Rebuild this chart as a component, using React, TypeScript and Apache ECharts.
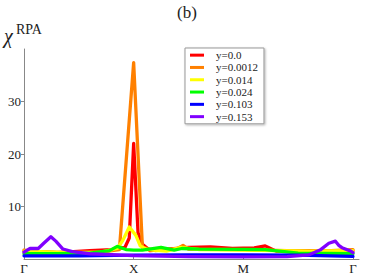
import React, { useEffect, useRef } from "react";
import * as echarts from "echarts";

const seriesNames = ["y=0.0", "y=0.0012", "y=0.014", "y=0.024", "y=0.103", "y=0.153"];
const seriesColors = ["#ff0000", "#ff8000", "#ffff00", "#00ff00", "#0000ff", "#8000ff"];

const xTickPositions = [0, 1, 2, 3];
const xTickLabels = ["Γ", "X", "M", "Γ"];
const yTickValues = [10, 20, 30];

const redData: [number, number][] = [
  [0, 1.5], [0.3, 1.2], [0.6, 1.6], [0.8, 1.8], [0.92, 2.2], [0.96, 4.0], [1.0, 22.0],
  [1.04, 5.0], [1.08, 2.8], [1.15, 1.6], [1.5, 2.2], [1.7, 2.3], [1.9, 2.0], [2.1, 2.1],
  [2.2, 2.5], [2.3, 1.5], [2.6, 1.6], [2.85, 1.4], [3.0, 1.6],
];
const orangeData: [number, number][] = [
  [0, 1.7], [0.1, 1.4], [0.4, 1.2], [0.7, 1.3], [0.87, 1.8], [1.0, 37.4], [1.08, 2.2],
  [1.2, 1.6], [1.4, 2.0], [1.45, 2.6], [1.5, 1.9], [2.0, 1.8], [2.4, 1.6], [2.7, 1.5], [3.0, 1.8],
];
const yellowData: [number, number][] = [
  [0, 1.5], [0.4, 1.2], [0.7, 1.3], [0.85, 2.0], [0.9, 3.5], [0.96, 6.1], [1.02, 4.5],
  [1.06, 2.5], [1.12, 1.8], [1.3, 1.5], [1.43, 2.2], [1.6, 1.8], [2.0, 1.7], [2.3, 1.6],
  [2.6, 1.5], [3.0, 1.6],
];
const greenData: [number, number][] = [
  [0, 1.0], [0.3, 1.0], [0.6, 1.1], [0.78, 1.6], [0.85, 2.4], [0.93, 1.8], [1.0, 1.7],
  [1.08, 1.7], [1.25, 2.2], [1.37, 1.7], [1.44, 2.0], [1.6, 1.9], [2.0, 1.85], [2.2, 1.8],
  [2.5, 1.1], [3.0, 1.0],
];
const blueData: [number, number][] = [
  [0, 0.6], [0.5, 0.6], [1.0, 0.75], [1.5, 0.8], [2.0, 0.8], [2.5, 0.75], [2.8, 0.6], [3.0, 0.5],
];
const purpleData: [number, number][] = [
  [0, 1.3], [0.055, 2.0], [0.13, 2.0], [0.18, 3.0], [0.245, 4.25], [0.29, 3.4], [0.355, 1.9],
  [0.44, 1.4], [0.6, 1.0], [1.0, 0.65], [1.5, 0.45], [2.0, 0.4], [2.4, 0.45], [2.6, 0.8],
  [2.7, 1.7], [2.78, 3.0], [2.84, 3.4], [2.87, 2.6], [2.9, 2.15], [2.98, 1.5], [3.0, 1.2],
];

const allData = [redData, orangeData, yellowData, greenData, blueData, purpleData];

const SERIF = "'Liberation Serif', 'DejaVu Serif', 'Times New Roman', serif";

export default function App() {
  const ref = useRef<HTMLDivElement>(null);
  useEffect(() => {
    if (!ref.current) return;
    const chart = echarts.init(ref.current, undefined, { renderer: "svg" });
    chart.setOption({
      animation: false,
      backgroundColor: "#ffffff",
      title: {
        text: "(b)",
        left: "center",
        top: 4,
        padding: 0,
        textStyle: { fontFamily: SERIF, fontSize: 17, fontWeight: "normal", color: "#222" },
      },
      graphic: [
        {
          type: "text",
          left: 4,
          top: 26,
          style: { text: "χ", font: `italic 20px ${SERIF}`, fill: "#222" },
        },
        {
          type: "text",
          left: 16,
          top: 22,
          style: { text: "RPA", font: `14px ${SERIF}`, fill: "#222" },
        },
      ],
      legend: {
        orient: "vertical",
        left: 185,
        top: 48,
        padding: [1, 6, 1, 5],
        itemGap: 0,
        itemWidth: 14,
        itemHeight: 3,
        icon: "rect",
        borderColor: "#999",
        borderWidth: 1,
        backgroundColor: "#fff",
        shadowColor: "rgba(0,0,0,0.3)",
        shadowBlur: 2,
        shadowOffsetX: 1,
        shadowOffsetY: 1,
        textStyle: {
          fontFamily: SERIF,
          fontSize: 11,
          lineHeight: 12.3,
          color: "#222",
          padding: [0, 0, 0, 7],
        },
        data: seriesNames,
      },
      grid: { left: 24, right: 15, top: 49, bottom: 20, containLabel: false },
      xAxis: {
        type: "value",
        min: 0,
        max: 3.055,
        axisLine: { show: true, lineStyle: { color: "#888", width: 1 } },
        axisTick: { show: true, inside: true, length: 3, customValues: xTickPositions, lineStyle: { color: "#888" } },
        axisLabel: {
          customValues: xTickPositions,
          formatter: (v: number) => {
            const i = xTickPositions.indexOf(Math.round(v));
            return i >= 0 ? xTickLabels[i] : "";
          },
          fontFamily: SERIF,
          fontSize: 13,
          color: "#222",
          margin: 3,
        },
        splitLine: { show: false },
      },
      yAxis: {
        type: "value",
        min: 0,
        max: 40,
        axisLine: { show: true, lineStyle: { color: "#888", width: 1 } },
        axisTick: { show: true, inside: false, length: 3, customValues: yTickValues, lineStyle: { color: "#888" } },
        axisLabel: {
          customValues: yTickValues,
          fontFamily: SERIF,
          fontSize: 13,
          color: "#222",
          margin: 3,
        },
        splitLine: { show: false },
      },
      series: seriesNames.map((name, i) => ({
        name,
        type: "line",
        data: allData[i],
        showSymbol: false,
        symbol: "none",
        color: seriesColors[i],
        itemStyle: { color: seriesColors[i] },
        lineStyle: { color: seriesColors[i], width: 3.3, cap: "round", join: "round" },
        z: 2 + i,
      })),
    });
    return () => chart.dispose();
  }, []);
  return (
    <div
      ref={ref}
      style={{ position: "fixed", left: 0, top: 0, width: 374, height: 279 }}
    />
  );
}
